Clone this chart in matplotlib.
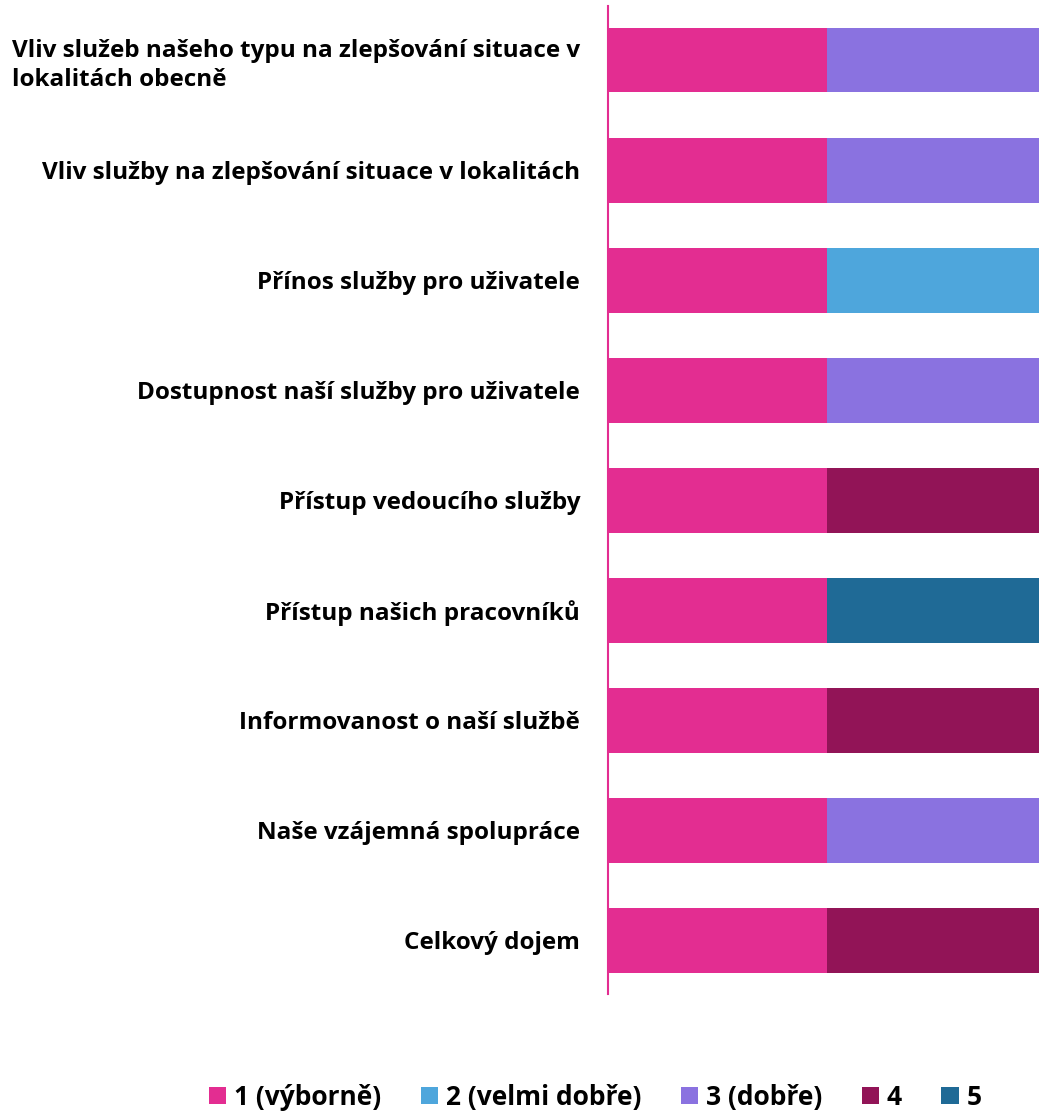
import numpy as np
import matplotlib.pyplot as plt

plt.rcParams['font.family'] = ['Open Sans', 'DejaVu Sans']

categories = [
    "Vliv služeb našeho typu na zlepšování situace v\nlokalitách obecně",
    "Vliv služby na zlepšování situace v lokalitách",
    "Přínos služby pro uživatele",
    "Dostupnost naší služby pro uživatele",
    "Přístup vedoucího služby",
    "Přístup našich pracovníků",
    "Informovanost o naší službě",
    "Naše vzájemná spolupráce",
    "Celkový dojem",
]
series_names = ["1 (výborně)", "2 (velmi dobře)", "3 (dobře)", "4", "5"]
colors = ["#E32D91", "#4EA6DC", "#8A72E0", "#921457", "#1F6A96"]

# percentages per rating, one list per series (same order as categories)
s1 = [50, 50, 50, 50, 50, 50, 50, 50, 50]
s2 = [0, 0, 50, 0, 0, 0, 0, 0, 0]
s3 = [50, 50, 0, 50, 0, 0, 0, 50, 0]
s4 = [0, 0, 0, 0, 50, 0, 50, 0, 50]
s5 = [0, 0, 0, 0, 0, 50, 0, 0, 0]
series = [s1, s2, s3, s4, s5]

fig = plt.figure(figsize=(10.39, 11.15), dpi=100)
ax = fig.add_axes([0.585, 0.1085, 0.415, 0.886])

y = np.arange(len(categories))
left = np.zeros(len(categories))
for name, vals, c in zip(series_names, series, colors):
    vals = np.array(vals, dtype=float)
    ax.barh(y, vals, left=left, height=0.59, color=c, label=name)
    left += vals

ax.set_ylim(len(categories) - 0.51, -0.49)
ax.set_xlim(0, 98.4)
ax.set_yticks(y)
ax.set_yticklabels(categories, fontsize=17.5, fontweight='bold', linespacing=1.3)
ax.get_yticklabels()[0].set_multialignment('left')
ax.tick_params(axis='y', length=0, pad=20)
ax.set_xticks([])
for side in ['top', 'right', 'bottom']:
    ax.spines[side].set_visible(False)
ax.spines['left'].set_color('#E32D91')
ax.spines['left'].set_linewidth(1.5)

fig.legend(loc='center', bbox_to_anchor=(0.573, 0.016), ncol=5, frameon=False,
           prop={'size': 19, 'weight': 'bold'}, handlelength=0.65, handleheight=0.65,
           handletextpad=0.3, columnspacing=1.5)

fig.savefig('out.png', dpi=100)
